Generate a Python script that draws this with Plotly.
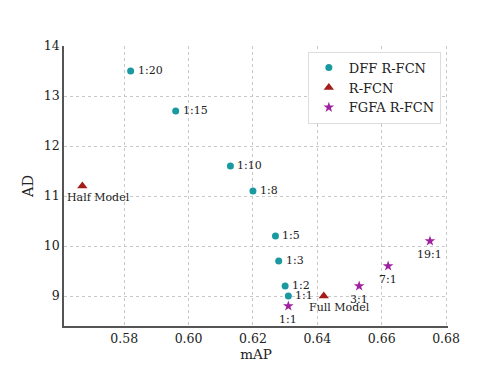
import plotly.graph_objects as go

# DFF R-FCN
dff_map = [0.582, 0.596, 0.613, 0.620, 0.627, 0.628, 0.630, 0.631]
dff_ad = [13.5, 12.7, 11.6, 11.1, 10.2, 9.7, 9.2, 9.0]
dff_labels = ["1:20", "1:15", "1:10", "1:8", "1:5", "1:3", "1:2", "1:1"]

# R-FCN
rfcn_map = [0.567, 0.642]
rfcn_ad = [11.2, 9.0]
rfcn_labels = ["Half Model", "Full Model"]

# FGFA R-FCN
fgfa_map = [0.631, 0.653, 0.662, 0.675]
fgfa_ad = [8.8, 9.2, 9.6, 10.1]
fgfa_labels = ["1:1", "3:1", "7:1", "19:1"]

x_ticks = [0.58, 0.60, 0.62, 0.64, 0.66, 0.68]
y_ticks = [9, 10, 11, 12, 13, 14]

FONT = "DejaVu Serif"
TEAL = "#1a9aa0"
RED = "#a51c1c"
PURPLE = "#a0209f"

fig = go.Figure()
fig.add_trace(go.Scatter(x=dff_map, y=dff_ad, mode="markers", name="DFF R-FCN",
                         marker=dict(symbol="circle", size=7, color=TEAL)))
fig.add_trace(go.Scatter(x=rfcn_map, y=rfcn_ad, mode="markers", name="R-FCN",
                         marker=dict(symbol="triangle-up", size=9, color=RED)))
fig.add_trace(go.Scatter(x=fgfa_map, y=fgfa_ad, mode="markers", name="FGFA R-FCN",
                         marker=dict(symbol="star", size=8, color=PURPLE, line=dict(width=0))))

ann = []
for x, y, t in zip(dff_map, dff_ad, dff_labels):
    ann.append(dict(x=x, y=y, text=t, xanchor="left", yanchor="middle",
                    xshift=5, yshift=1, showarrow=False))
for x, y, t in zip(rfcn_map, rfcn_ad, rfcn_labels):
    ann.append(dict(x=x, y=y, text=t, xanchor="left", yanchor="middle",
                    xshift=-17, yshift=-11, showarrow=False))
for x, y, t in zip(fgfa_map, fgfa_ad, fgfa_labels):
    ann.append(dict(x=x, y=y, text=t, xanchor="center", yanchor="middle",
                    yshift=-13, showarrow=False))
for a in ann:
    a["font"] = dict(family=FONT, size=11, color="#222")

axis_common = dict(showgrid=True, gridcolor="#c8c8c8", griddash="dot", gridwidth=1,
                   zeroline=False, ticks="", showline=True, linecolor="#555",
                   linewidth=1.5, automargin=False,
                   tickfont=dict(family=FONT, size=12.5, color="#222"))

fig.update_layout(
    width=495, height=371,
    margin=dict(l=56, r=55, t=38, b=53, autoexpand=False),
    plot_bgcolor="white", paper_bgcolor="white",
    font=dict(family=FONT, color="#222"),
    annotations=ann,
    xaxis=dict(range=[0.5613, 0.6806], tickvals=x_ticks,
               ticktext=[f"{v:.2f}" for v in x_ticks],
               title=dict(text="mAP", font=dict(family=FONT, size=13.5), standoff=2),
               **axis_common),
    yaxis=dict(range=[8.4, 14.0], tickvals=y_ticks,
               title=dict(text="AD", font=dict(family=FONT, size=14.5), standoff=7),
               **axis_common),
    legend=dict(x=0.635, y=0.98, xanchor="left", yanchor="top",
                bgcolor="white", bordercolor="#dddddd", borderwidth=1,
                font=dict(family=FONT, size=13)),
)

fig.write_html("out.html")
